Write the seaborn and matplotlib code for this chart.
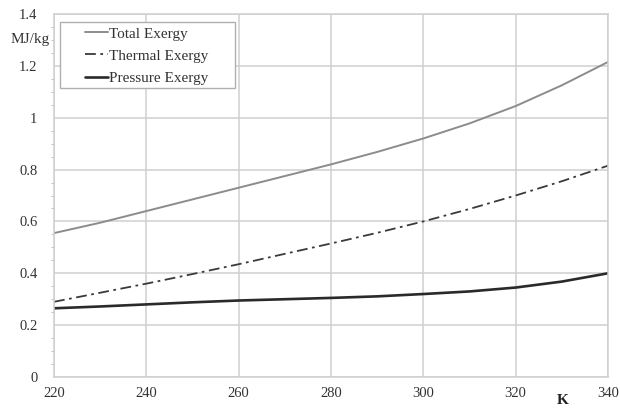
import numpy as np
import pandas as pd
import matplotlib
matplotlib.use('Agg')
import matplotlib.pyplot as plt
from matplotlib.ticker import MultipleLocator
from matplotlib.patches import Rectangle
import seaborn as sns

# values
temperature = [220, 230, 240, 250, 260, 270, 280, 290, 300, 310, 320, 330, 340]
total_exergy = [0.555, 0.595, 0.64, 0.685, 0.73, 0.775, 0.82, 0.868, 0.92, 0.978, 1.045, 1.125, 1.215]
thermal_exergy = [0.29, 0.325, 0.36, 0.397, 0.435, 0.475, 0.515, 0.556, 0.6, 0.648, 0.7, 0.755, 0.815]
pressure_exergy = [0.265, 0.272, 0.28, 0.288, 0.295, 0.30, 0.305, 0.311, 0.32, 0.33, 0.345, 0.368, 0.40]

x_ticks = [220, 240, 260, 280, 300, 320, 340]
y_ticks = [0, 0.2, 0.4, 0.6, 0.8, 1, 1.2, 1.4]
y_tick_labels = ['0', '0.2', '0.4', '0.6', '0.8', '1', '1.2', '1.4']

sns.set_style('white')
plt.rcParams['font.family'] = ['Liberation Serif', 'DejaVu Serif']

df = pd.DataFrame({'K': temperature,
                   'Total Exergy': total_exergy,
                   'Thermal Exergy': thermal_exergy,
                   'Pressure Exergy': pressure_exergy})

fig = plt.figure(figsize=(6.2, 4.08), dpi=100)
ax = fig.add_axes([54 / 620, 31 / 408, 554 / 620, 363 / 408])

sns.lineplot(data=df, x='K', y='Total Exergy', ax=ax, color='#8c8c8c', lw=1.4, label='Total Exergy')
sns.lineplot(data=df, x='K', y='Thermal Exergy', ax=ax, color='#3a3a3a', lw=1.3, label='Thermal Exergy')
ax.lines[-1].set_dashes([6, 2.5, 1.5, 2.5])
sns.lineplot(data=df, x='K', y='Pressure Exergy', ax=ax, color='#2a2a2a', lw=1.9, label='Pressure Exergy')

ax.set_xlim(220, 340)
ax.set_ylim(0, 1.4)
ax.set_xticks(x_ticks)
ax.set_yticks(y_ticks)
ax.set_yticklabels(y_tick_labels)
ax.yaxis.set_minor_locator(MultipleLocator(0.05))
ax.tick_params(axis='y', which='minor', length=2, color='#bbbbbb', left=True)
ax.tick_params(axis='x', which='major', length=0, labelsize=10.5, labelcolor='#333333', pad=7)
ax.tick_params(axis='y', which='major', length=0, labelsize=10.5, labelcolor='#333333', pad=12)
ax.grid(True, which='major', color='#cfcfd2', lw=1.1)
for s in ax.spines.values():
    s.set_color('#cfcfd2')
    s.set_linewidth(1.1)

ax.set_xlabel('')
ax.set_ylabel('')
fig.text(30 / 620, 1 - 39 / 408, 'MJ/kg', fontsize=11, color='#333333', ha='center', va='center')
fig.text(563 / 620, 8 / 408, 'K', fontsize=11, fontweight='bold', color='#222222', ha='center', va='center')

# legend box drawn separately (wide side padding)
box = Rectangle((60 / 620, 1 - 88 / 408), 175 / 620, 66 / 408, transform=fig.transFigure,
                facecolor='white', edgecolor='#b0b0b0', lw=1.0, zorder=4, clip_on=False)
ax.add_patch(box)
leg = ax.legend(loc='upper left', bbox_to_anchor=(85 / 620, 1 - 27 / 408), bbox_transform=fig.transFigure,
                frameon=False, fontsize=11, handlelength=1.5, handletextpad=0.1, borderpad=0,
                borderaxespad=0, labelspacing=0.55)
leg.set_zorder(6)
for t in leg.get_texts():
    t.set_color('#333333')

fig.savefig('out.png', dpi=100)
